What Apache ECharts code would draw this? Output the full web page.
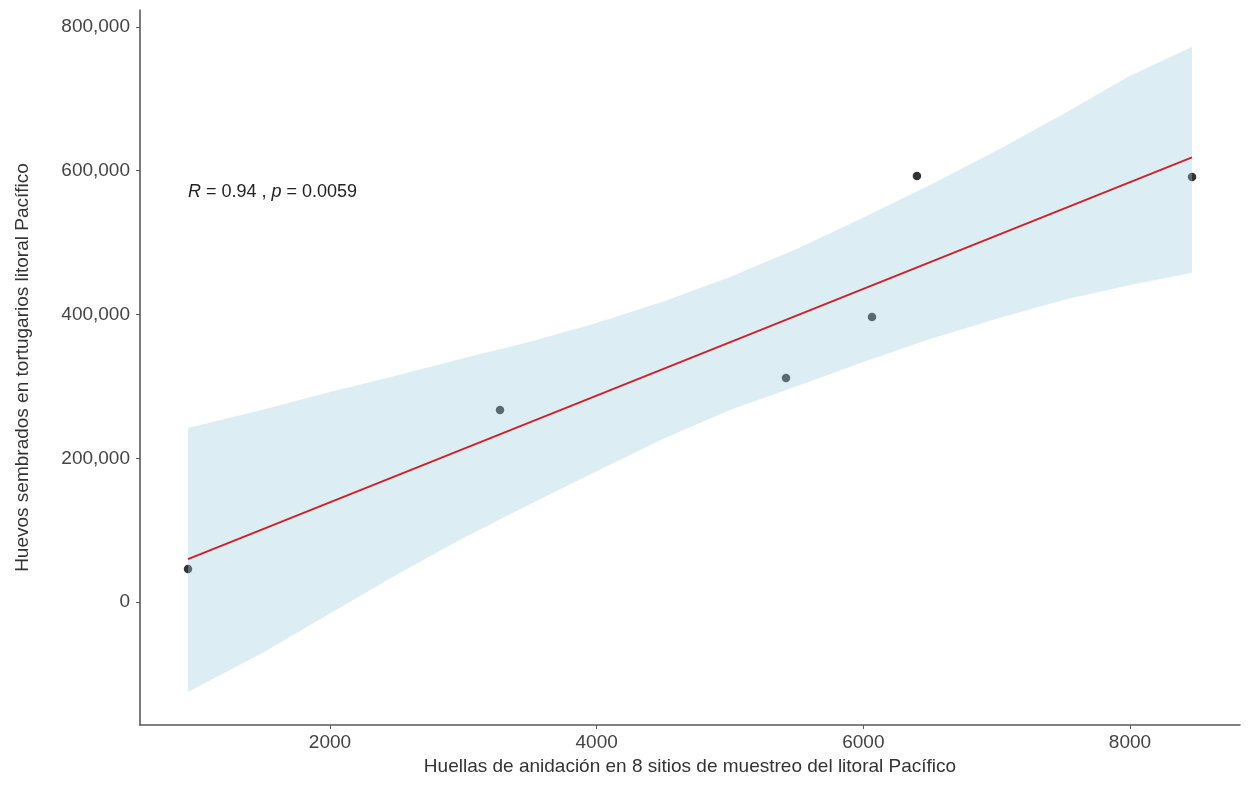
<!DOCTYPE html>
<html>
<head>
<meta charset="utf-8">
<script src="https://cdn.jsdelivr.net/npm/echarts@6/dist/echarts.min.js"></script>
<style>
html,body{margin:0;padding:0;background:#fff;}
#c{width:1248px;height:803px;}
</style>
</head>
<body>
<div id="c"></div>
<script>
// ---- data ----
const xTicks = [2000, 4000, 6000, 8000];
const yTicks = [0, 200000, 400000, 600000, 800000];
const siteX = [935, 3275, 5420, 6065, 6402, 8465];
const eggsY = [45900, 267100, 311600, 396400, 592600, 591200];
const fitX = [935, 8465];
const fitY = [59800, 618500];
const bandX = [935, 1500, 2000, 2500, 3000, 3500, 4000, 4500, 5000, 5500, 6000, 6500, 7000, 7500, 8000, 8465];
const bandLower = [-125000, -70000, -16000, 38000, 89000, 136000, 182000, 227000, 267000, 300000, 334000, 366000, 394000, 420000, 441000, 458000];
const bandUpper = [242000, 268000, 292000, 315000, 339000, 362000, 388000, 418000, 452000, 491000, 535000, 580000, 628000, 679000, 732000, 772000];
const xTitle = 'Huellas de anidación en 8 sitios de muestreo del litoral Pacífico';
const yTitle = 'Huevos sembrados en tortugarios litoral Pacífico';

const chart = echarts.init(document.getElementById('c'), null, {renderer: 'canvas'});
const font = 'Liberation Sans, Arial, sans-serif';
const axisColor = '#5a5a5a';

const option = {
  animation: false,
  backgroundColor: '#ffffff',
  grid: {left: 140, right: 8, top: 10, bottom: 78},
  xAxis: {
    type: 'value', min: 575, max: 8825,
    name: xTitle, nameLocation: 'middle', nameGap: 30,
    nameTextStyle: {fontFamily: font, fontSize: 19, color: '#333'},
    axisLine: {show: true, onZero: false, lineStyle: {color: axisColor, width: 1.6}},
    axisTick: {show: true, customValues: xTicks, length: 4, lineStyle: {color: axisColor}},
    axisLabel: {customValues: xTicks, margin: 8, fontFamily: font, fontSize: 19, color: '#444',
      formatter: v => String(v)},
    splitLine: {show: false}
  },
  yAxis: {
    type: 'value', min: -171000, max: 823500,
    name: yTitle, nameLocation: 'middle', nameGap: 108, nameRotate: 90,
    nameTextStyle: {fontFamily: font, fontSize: 19, color: '#333'},
    axisLine: {show: true, onZero: false, lineStyle: {color: axisColor, width: 1.6}},
    axisTick: {show: true, customValues: yTicks, length: 4, lineStyle: {color: axisColor}},
    axisLabel: {customValues: yTicks, margin: 10, fontFamily: font, fontSize: 19, color: '#444',
      formatter: v => v.toLocaleString('en-US')},
    splitLine: {show: false}
  },
  series: [
    {
      type: 'scatter', name: 'sitios',
      data: siteX.map((x, i) => [x, eggsY[i]]),
      symbol: 'circle', symbolSize: 8.5,
      itemStyle: {color: '#000'}, z: 2
    },
    {
      type: 'custom', name: 'IC 95%', z: 3,
      data: bandX.map((x, i) => [x, bandLower[i], bandUpper[i]]),
      encode: {x: 0, y: [1, 2]},
      renderItem: function (params, api) {
        if (params.dataIndex !== 0) return null;
        const upper = bandX.map((x, i) => api.coord([x, bandUpper[i]]));
        const lower = bandX.map((x, i) => api.coord([x, bandLower[i]])).reverse();
        return {
          type: 'polygon',
          shape: {points: upper.concat(lower)},
          style: {fill: 'rgba(160,205,225,0.36)'}
        };
      }
    },
    {
      type: 'line', name: 'fit',
      data: fitX.map((x, i) => [x, fitY[i]]),
      symbol: 'none', lineStyle: {color: '#d0212b', width: 2}, z: 4
    }
  ],
  graphic: [{
    type: 'text', left: 188, top: 183,
    style: {
      text: '{i|R} = 0.94 , {i|p} = 0.0059',
      font: '18px Liberation Sans, Arial, sans-serif',
      fill: '#222',
      rich: {i: {fontStyle: 'italic', fontSize: 18, fontFamily: font, fill: '#222'}}
    }
  }]
};
chart.setOption(option);
</script>
</body>
</html>
